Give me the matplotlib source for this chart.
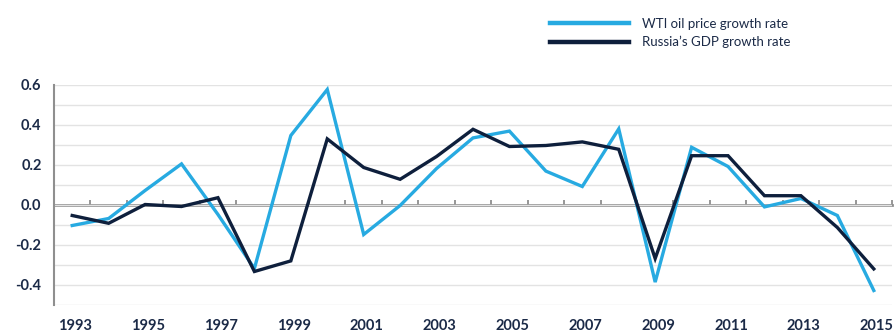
import matplotlib
matplotlib.use("Agg")
import matplotlib.pyplot as plt
import matplotlib.transforms as mtransforms
import numpy as np

years = list(range(1993, 2016))
wti_growth = [-0.105, -0.07, 0.07, 0.203, -0.05, -0.32, 0.345, 0.575, -0.15, -0.005,
              0.18, 0.333, 0.367, 0.167, 0.09, 0.378, -0.388, 0.286, 0.19, -0.012,
              0.03, -0.055, -0.43]
gdp_growth = [-0.055, -0.094, 0.0, -0.01, 0.034, -0.335, -0.282, 0.328, 0.185, 0.126,
              0.24, 0.376, 0.29, 0.295, 0.313, 0.276, -0.27, 0.244, 0.244, 0.044,
              0.044, -0.115, -0.322]
series_labels = ["WTI oil price growth rate", "Russia\u2019s GDP growth rate"]
x_tick_years = list(range(1993, 2016, 2))
y_ticks = [-0.4, -0.2, 0.0, 0.2, 0.4, 0.6]

LIGHT = "#27aae1"
DARK = "#0e1f3c"
TEXT = "#1b2a47"
GRID = "#e3e3e3"
AXIS = "#8f8f8f"

plt.rcParams["font.family"] = ["Lato", "DejaVu Sans"]
plt.rcParams["axes.unicode_minus"] = False

fig = plt.figure(figsize=(8.94, 3.33), dpi=100)
ax = fig.add_axes([54 / 894, 1 - 304.5 / 333, (892 - 54) / 894, (304.5 - 84.5) / 333])

ax.set_xlim(years[0] - 0.5, years[-1] + 0.5)
ax.set_ylim(-0.5, 0.6)

# grid every 0.1
ax.set_yticks(y_ticks)
ax.set_yticks(np.round(np.arange(-0.5, 0.61, 0.1), 1), minor=True)
ax.yaxis.grid(True, which="both", color=GRID, lw=1.0)
ax.set_axisbelow(True)
ax.set_yticklabels([f"{v:.1f}" for v in y_ticks])
ax.tick_params(axis="y", which="both", length=0, pad=9, labelsize=10.5, labelcolor=TEXT)
for lab in ax.get_yticklabels():
    lab.set_fontweight("bold")

ax.set_xticks(x_tick_years)
ax.set_xticklabels([str(y) for y in x_tick_years])
ax.tick_params(axis="x", length=0, pad=10.5, labelsize=10.5, labelcolor=TEXT)
shift = mtransforms.ScaledTranslation(3 / 100, 0, fig.dpi_scale_trans)
for lab in ax.get_xticklabels():
    lab.set_fontweight("bold")
    lab.set_transform(lab.get_transform() + shift)

for s in ["top", "right", "bottom"]:
    ax.spines[s].set_visible(False)
ax.spines["left"].set_color(AXIS)
ax.spines["left"].set_linewidth(1.5)

# zero axis with category-boundary ticks
sec = ax.secondary_xaxis(0.5 / 1.1)
sec.set_xticks(np.arange(years[0] - 0.5, years[-1] + 0.6, 1.0))
sec.set_xticklabels([])
sec.tick_params(direction="in", length=3.5, width=1.3, color=AXIS)
sec.spines["bottom"].set_color(AXIS)
sec.spines["bottom"].set_linewidth(2.0)
for s in ["top", "left", "right"]:
    if s in sec.spines:
        sec.spines[s].set_visible(False)

l1, = ax.plot(years, wti_growth, color=LIGHT, lw=2.4, solid_joinstyle="miter", zorder=3)
l2, = ax.plot(years, gdp_growth, color=DARK, lw=2.4, solid_joinstyle="miter", zorder=4)

leg = fig.legend([l1, l2], series_labels, loc="upper left",
                 bbox_to_anchor=(550 / 894, 1 - 18 / 333), frameon=False,
                 handlelength=6.0, handletextpad=1.0, labelspacing=0.45,
                 borderpad=0, borderaxespad=0, fontsize=9.5)
for t in leg.get_texts():
    t.set_color(TEXT)
for h in leg.get_lines():
    h.set_linewidth(3.2)

fig.savefig("out.png", dpi=100)
